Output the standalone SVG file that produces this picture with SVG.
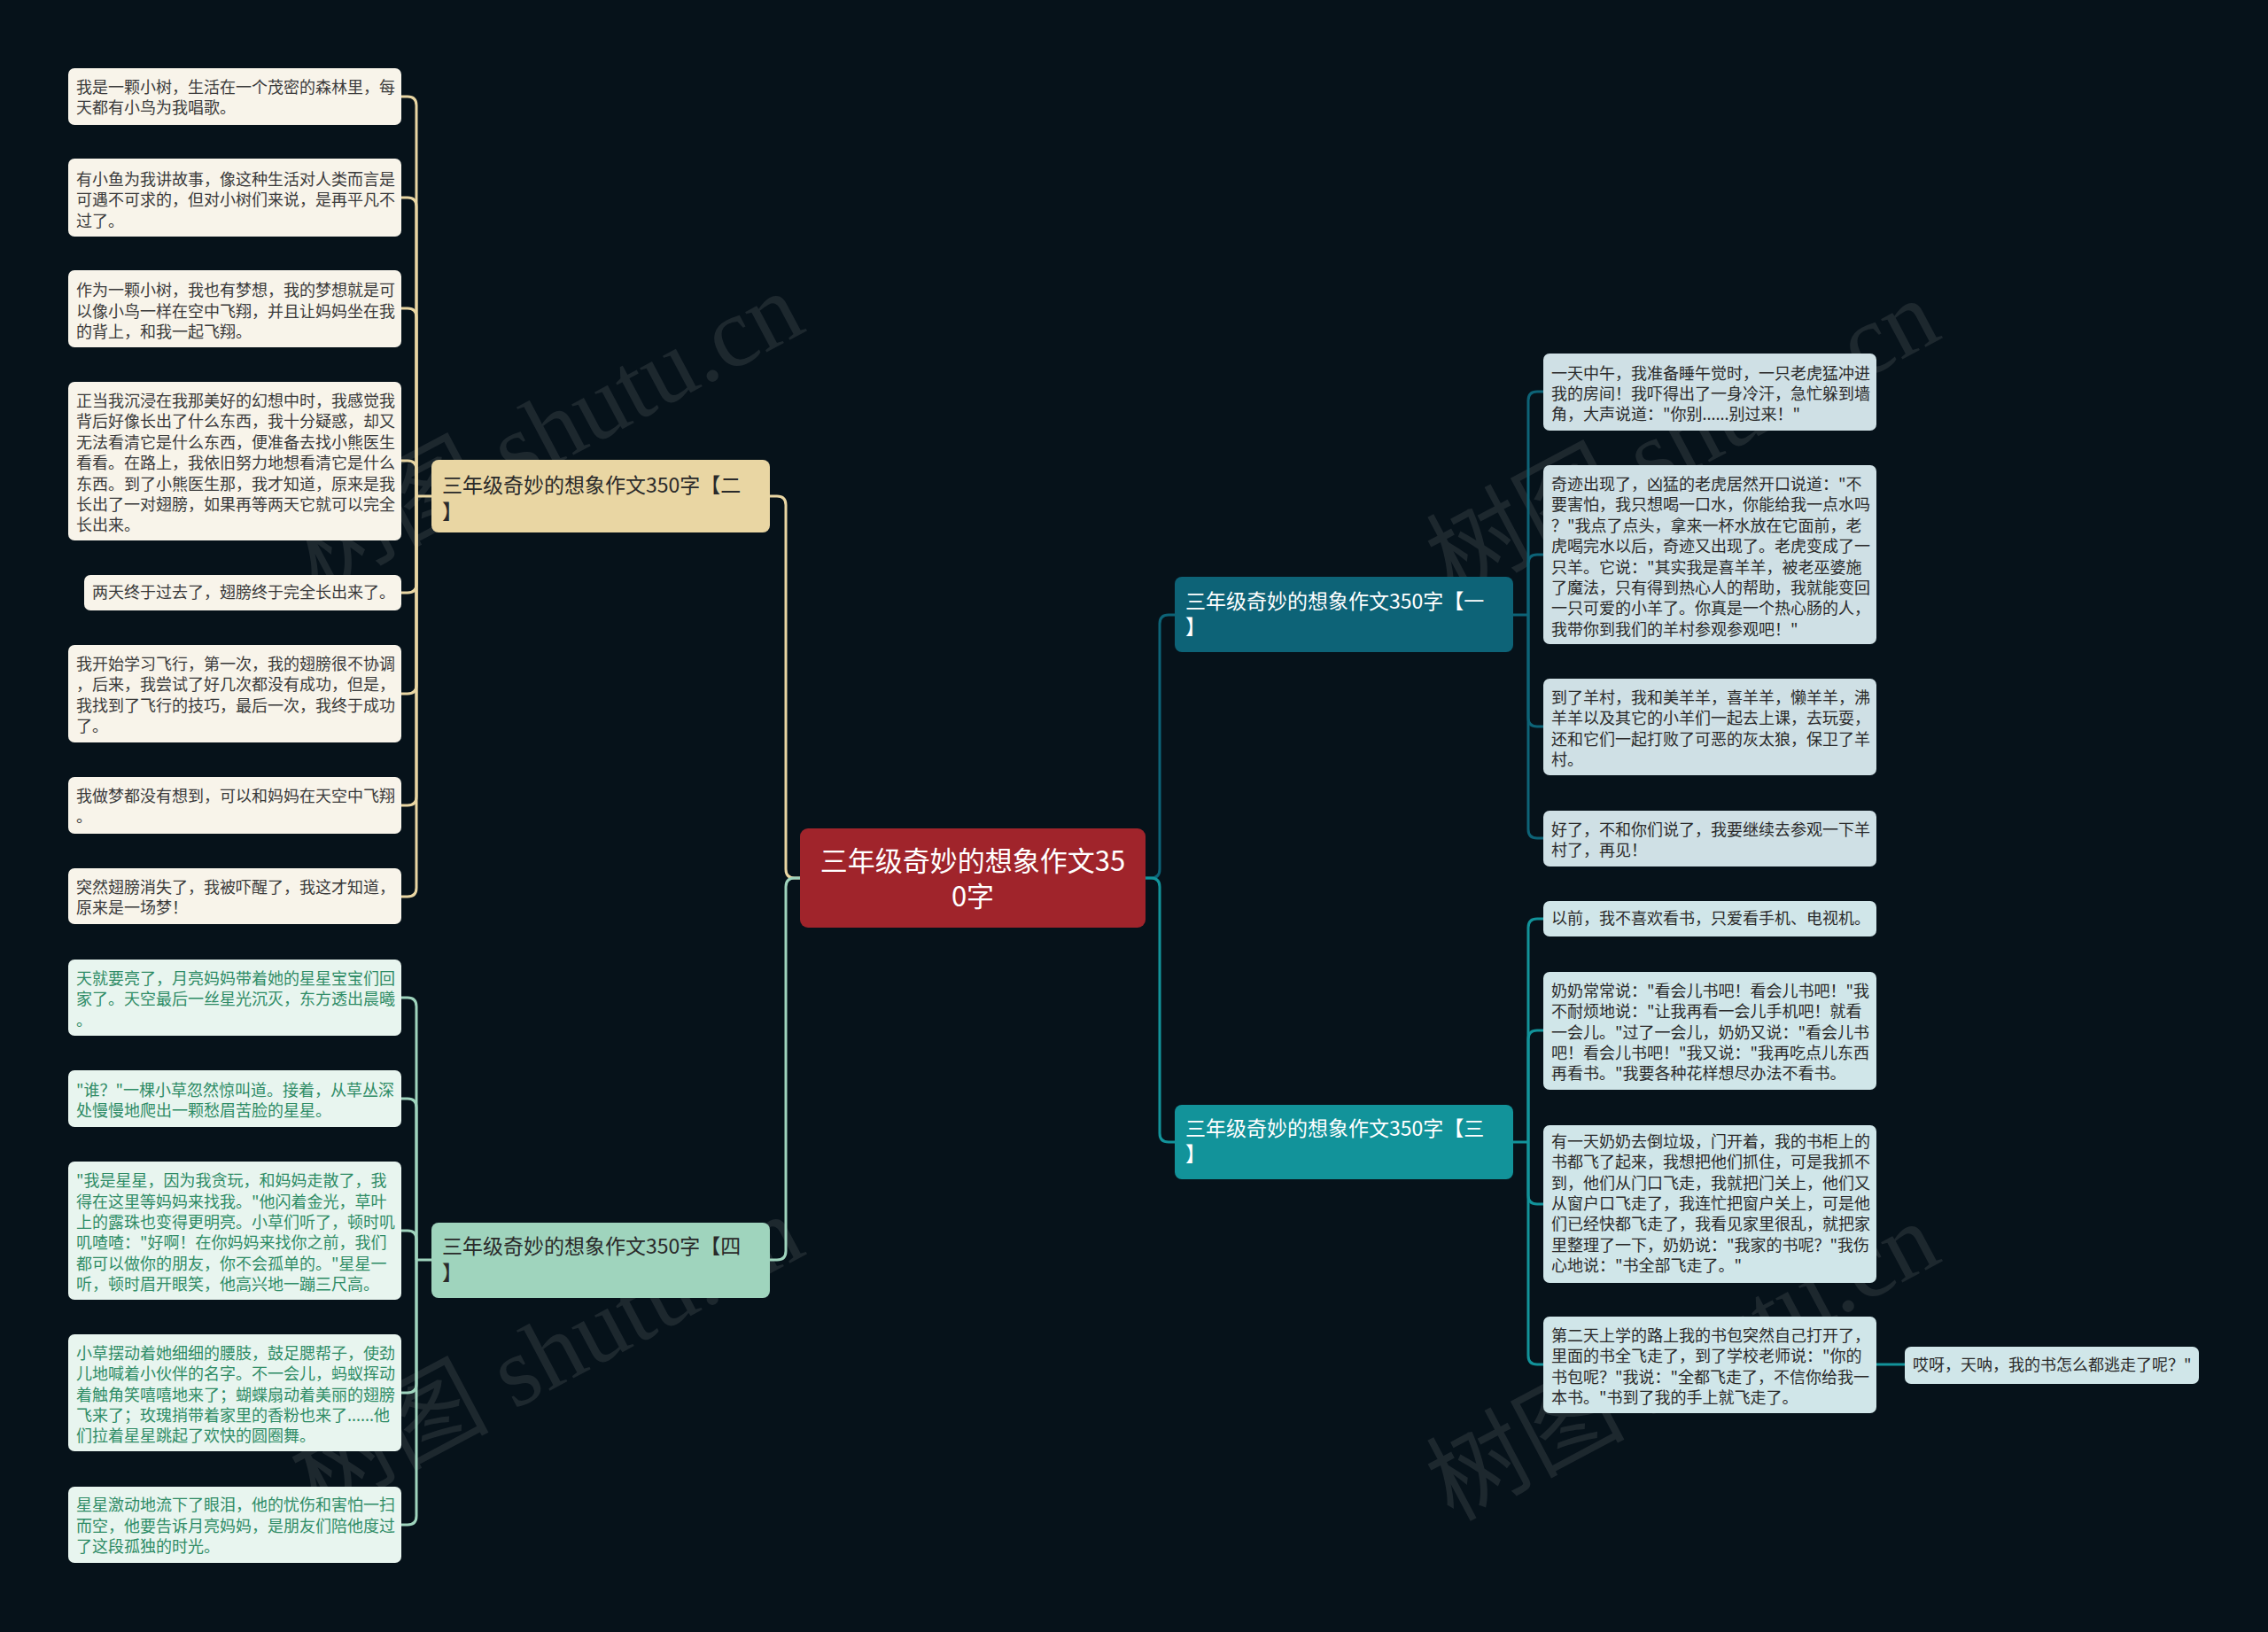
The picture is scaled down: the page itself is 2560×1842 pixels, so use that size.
<svg xmlns="http://www.w3.org/2000/svg" width="2560" height="1842" viewBox="0 0 2560 1842">
<style>
text{font-family:"Noto Sans CJK SC","Noto Sans",sans-serif}
.lf{font-size:18px}
.br{font-size:23px}
.c{fill:none;stroke-width:3}
.wm{font-family:"Liberation Serif","Noto Sans CJK SC",serif;font-size:112px;fill:#b8b8b8;opacity:0.13}
</style>
<rect width="2560" height="1842" fill="#06121a"/>
<g id="watermarks">
<text class="wm" transform="translate(635 520) rotate(-28)" text-anchor="middle">树图 shutu.cn</text>
<text class="wm" transform="translate(635 1562) rotate(-28)" text-anchor="middle">树图 shutu.cn</text>
<text class="wm" transform="translate(1917 528) rotate(-28)" text-anchor="middle">树图 shutu.cn</text>
<text class="wm" transform="translate(1917 1570) rotate(-28)" text-anchor="middle">树图 shutu.cn</text>
</g>
<g id="connectors">
<g stroke="#e9d6a3" class="c">
<path class="c" d="M903 991 H897 Q887 991 887 981 V570 Q887 560 877 560 H869"/>
<path class="c" d="M487 560 H470"/>
<path class="c" d="M470 560 V119 Q470 109 460 109 H453"/>
<path class="c" d="M470 560 V233 Q470 223 460 223 H453"/>
<path class="c" d="M470 560 V358 Q470 348 460 348 H453"/>
<path class="c" d="M470 560 V530 Q470 520 460 520 H453"/>
<path class="c" d="M470 560 V659 Q470 669 460 669 H453"/>
<path class="c" d="M470 560 V773 Q470 783 460 783 H453"/>
<path class="c" d="M470 560 V899 Q470 909 460 909 H453"/>
<path class="c" d="M470 560 V1002 Q470 1012 460 1012 H453"/>
</g>
<g stroke="#9fd4bd">
<path class="c" d="M903 991 H897 Q887 991 887 1001 V1412 Q887 1422 877 1422 H869"/>
<path class="c" d="M487 1422 H470"/>
<path class="c" d="M470 1422 V1136 Q470 1126 460 1126 H453"/>
<path class="c" d="M470 1422 V1250 Q470 1240 460 1240 H453"/>
<path class="c" d="M470 1422 V1399 Q470 1389 460 1389 H453"/>
<path class="c" d="M470 1422 V1562 Q470 1572 460 1572 H453"/>
<path class="c" d="M470 1422 V1711 Q470 1721 460 1721 H453"/>
</g>
<g stroke="#0d6377">
<path class="c" d="M1293 991 H1299 Q1309 991 1309 981 V704 Q1309 694 1319 694 H1326"/>
<path class="c" d="M1708 694 H1725"/>
<path class="c" d="M1725 694 V452 Q1725 442 1735 442 H1742"/>
<path class="c" d="M1725 694 V636 Q1725 626 1735 626 H1742"/>
<path class="c" d="M1725 694 V810 Q1725 820 1735 820 H1742"/>
<path class="c" d="M1725 694 V936 Q1725 946 1735 946 H1742"/>
</g>
<g stroke="#12939a">
<path class="c" d="M1293 991 H1299 Q1309 991 1309 1001 V1279 Q1309 1289 1319 1289 H1326"/>
<path class="c" d="M1708 1289 H1725"/>
<path class="c" d="M1725 1289 V1047 Q1725 1037 1735 1037 H1742"/>
<path class="c" d="M1725 1289 V1173 Q1725 1163 1735 1163 H1742"/>
<path class="c" d="M1725 1289 V1349 Q1725 1359 1735 1359 H1742"/>
<path class="c" d="M1725 1289 V1530 Q1725 1540 1735 1540 H1742"/>
<path class="c" d="M2118 1540 H2150"/>
</g>
</g>
<g id="center">
<rect x="903" y="935" width="390" height="112" rx="9" fill="#a0242b"/>
<text x="1098" y="983" font-size="31" fill="#ffffff" text-anchor="middle">三年级奇妙的想象作文35</text>
<text x="1098" y="1023" font-size="31" fill="#ffffff" text-anchor="middle">0字</text>
</g>
<g id="branch-2">
<rect x="487" y="519" width="382" height="82" rx="8" fill="#e9d6a3"/>
<text class="br" fill="#2a2a2a"><tspan x="499" y="556">三年级奇妙的想象作文350字【二</tspan><tspan x="499" y="586">】</tspan></text>
</g>
<g id="branch-4">
<rect x="487" y="1380" width="382" height="85" rx="8" fill="#9fd4bd"/>
<text class="br" fill="#2a2a2a"><tspan x="499" y="1415">三年级奇妙的想象作文350字【四</tspan><tspan x="499" y="1445">】</tspan></text>
</g>
<g id="branch-1">
<rect x="1326" y="651" width="382" height="85" rx="8" fill="#0d6377"/>
<text class="br" fill="#ffffff"><tspan x="1338" y="687">三年级奇妙的想象作文350字【一</tspan><tspan x="1338" y="716">】</tspan></text>
</g>
<g id="branch-3">
<rect x="1326" y="1247" width="382" height="84" rx="8" fill="#12939a"/>
<text class="br" fill="#ffffff"><tspan x="1338" y="1282">三年级奇妙的想象作文350字【三</tspan><tspan x="1338" y="1311">】</tspan></text>
</g>
<g id="leaf-2-1">
<rect x="77" y="77" width="376" height="64" rx="7" fill="#f8f4ea"/>
<text class="lf" fill="#3a3a3a"><tspan x="86" y="105">我是一颗小树，生活在一个茂密的森林里，每</tspan><tspan x="86" y="128">天都有小鸟为我唱歌。</tspan></text>
</g>
<g id="leaf-2-2">
<rect x="77" y="179" width="376" height="88" rx="7" fill="#f8f4ea"/>
<text class="lf" fill="#3a3a3a"><tspan x="86" y="209">有小鱼为我讲故事，像这种生活对人类而言是</tspan><tspan x="86" y="232">可遇不可求的，但对小树们来说，是再平凡不</tspan><tspan x="86" y="256">过了。</tspan></text>
</g>
<g id="leaf-2-3">
<rect x="77" y="305" width="376" height="87" rx="7" fill="#f8f4ea"/>
<text class="lf" fill="#3a3a3a"><tspan x="86" y="334">作为一颗小树，我也有梦想，我的梦想就是可</tspan><tspan x="86" y="358">以像小鸟一样在空中飞翔，并且让妈妈坐在我</tspan><tspan x="86" y="381">的背上，和我一起飞翔。</tspan></text>
</g>
<g id="leaf-2-4">
<rect x="77" y="431" width="376" height="179" rx="7" fill="#f8f4ea"/>
<text class="lf" fill="#3a3a3a"><tspan x="86" y="459">正当我沉浸在我那美好的幻想中时，我感觉我</tspan><tspan x="86" y="482">背后好像长出了什么东西，我十分疑惑，却又</tspan><tspan x="86" y="506">无法看清它是什么东西，便准备去找小熊医生</tspan><tspan x="86" y="529">看看。在路上，我依旧努力地想看清它是什么</tspan><tspan x="86" y="553">东西。到了小熊医生那，我才知道，原来是我</tspan><tspan x="86" y="576">长出了一对翅膀，如果再等两天它就可以完全</tspan><tspan x="86" y="599">长出来。</tspan></text>
</g>
<g id="leaf-2-5">
<rect x="95" y="649" width="358" height="40" rx="7" fill="#f8f4ea"/>
<text class="lf" fill="#3a3a3a" x="104" y="675">两天终于过去了，翅膀终于完全长出来了。</text>
</g>
<g id="leaf-2-6">
<rect x="77" y="728" width="376" height="110" rx="7" fill="#f8f4ea"/>
<text class="lf" fill="#3a3a3a"><tspan x="86" y="756">我开始学习飞行，第一次，我的翅膀很不协调</tspan><tspan x="86" y="779">，后来，我尝试了好几次都没有成功，但是，</tspan><tspan x="86" y="803">我找到了飞行的技巧，最后一次，我终于成功</tspan><tspan x="86" y="826">了。</tspan></text>
</g>
<g id="leaf-2-7">
<rect x="77" y="877" width="376" height="64" rx="7" fill="#f8f4ea"/>
<text class="lf" fill="#3a3a3a"><tspan x="86" y="905">我做梦都没有想到，可以和妈妈在天空中飞翔</tspan><tspan x="86" y="928">。</tspan></text>
</g>
<g id="leaf-2-8">
<rect x="77" y="980" width="376" height="63" rx="7" fill="#f8f4ea"/>
<text class="lf" fill="#3a3a3a"><tspan x="86" y="1008">突然翅膀消失了，我被吓醒了，我这才知道，</tspan><tspan x="86" y="1031">原来是一场梦！</tspan></text>
</g>
<g id="leaf-4-1">
<rect x="77" y="1083" width="376" height="86" rx="7" fill="#e8f5ef"/>
<text class="lf" fill="#2f8c66"><tspan x="86" y="1111">天就要亮了，月亮妈妈带着她的星星宝宝们回</tspan><tspan x="86" y="1134">家了。天空最后一丝星光沉灭，东方透出晨曦</tspan><tspan x="86" y="1158">。</tspan></text>
</g>
<g id="leaf-4-2">
<rect x="77" y="1208" width="376" height="64" rx="7" fill="#e8f5ef"/>
<text class="lf" fill="#2f8c66"><tspan x="86" y="1237">"谁？"一棵小草忽然惊叫道。接着，从草丛深</tspan><tspan x="86" y="1260">处慢慢地爬出一颗愁眉苦脸的星星。</tspan></text>
</g>
<g id="leaf-4-3">
<rect x="77" y="1311" width="376" height="156" rx="7" fill="#e8f5ef"/>
<text class="lf" fill="#2f8c66"><tspan x="86" y="1339">"我是星星，因为我贪玩，和妈妈走散了，我</tspan><tspan x="86" y="1363">得在这里等妈妈来找我。"他闪着金光，草叶</tspan><tspan x="86" y="1386">上的露珠也变得更明亮。小草们听了，顿时叽</tspan><tspan x="86" y="1409">叽喳喳："好啊！在你妈妈来找你之前，我们</tspan><tspan x="86" y="1433">都可以做你的朋友，你不会孤单的。"星星一</tspan><tspan x="86" y="1456">听，顿时眉开眼笑，他高兴地一蹦三尺高。</tspan></text>
</g>
<g id="leaf-4-4">
<rect x="77" y="1506" width="376" height="132" rx="7" fill="#e8f5ef"/>
<text class="lf" fill="#2f8c66"><tspan x="86" y="1534">小草摆动着她细细的腰肢，鼓足腮帮子，使劲</tspan><tspan x="86" y="1557">儿地喊着小伙伴的名字。不一会儿，蚂蚁挥动</tspan><tspan x="86" y="1581">着触角笑嘻嘻地来了；蝴蝶扇动着美丽的翅膀</tspan><tspan x="86" y="1604">飞来了；玫瑰捎带着家里的香粉也来了......他</tspan><tspan x="86" y="1627">们拉着星星跳起了欢快的圆圈舞。</tspan></text>
</g>
<g id="leaf-4-5">
<rect x="77" y="1678" width="376" height="86" rx="7" fill="#e8f5ef"/>
<text class="lf" fill="#2f8c66"><tspan x="86" y="1705">星星激动地流下了眼泪，他的忧伤和害怕一扫</tspan><tspan x="86" y="1729">而空，他要告诉月亮妈妈，是朋友们陪他度过</tspan><tspan x="86" y="1752">了这段孤独的时光。</tspan></text>
</g>
<g id="leaf-1-1">
<rect x="1742" y="399" width="376" height="87" rx="7" fill="#cfe0e5"/>
<text class="lf" fill="#2a2a2a"><tspan x="1751" y="428">一天中午，我准备睡午觉时，一只老虎猛冲进</tspan><tspan x="1751" y="451">我的房间！我吓得出了一身冷汗，急忙躲到墙</tspan><tspan x="1751" y="474">角，大声说道："你别......别过来！"</tspan></text>
</g>
<g id="leaf-1-2">
<rect x="1742" y="525" width="376" height="202" rx="7" fill="#cfe0e5"/>
<text class="lf" fill="#2a2a2a"><tspan x="1751" y="553">奇迹出现了，凶猛的老虎居然开口说道："不</tspan><tspan x="1751" y="576">要害怕，我只想喝一口水，你能给我一点水吗</tspan><tspan x="1751" y="600">？"我点了点头，拿来一杯水放在它面前，老</tspan><tspan x="1751" y="623">虎喝完水以后，奇迹又出现了。老虎变成了一</tspan><tspan x="1751" y="647">只羊。它说："其实我是喜羊羊，被老巫婆施</tspan><tspan x="1751" y="670">了魔法，只有得到热心人的帮助，我就能变回</tspan><tspan x="1751" y="693">一只可爱的小羊了。你真是一个热心肠的人，</tspan><tspan x="1751" y="717">我带你到我们的羊村参观参观吧！"</tspan></text>
</g>
<g id="leaf-1-3">
<rect x="1742" y="766" width="376" height="109" rx="7" fill="#cfe0e5"/>
<text class="lf" fill="#2a2a2a"><tspan x="1751" y="794">到了羊村，我和美羊羊，喜羊羊，懒羊羊，沸</tspan><tspan x="1751" y="817">羊羊以及其它的小羊们一起去上课，去玩耍，</tspan><tspan x="1751" y="841">还和它们一起打败了可恶的灰太狼，保卫了羊</tspan><tspan x="1751" y="864">村。</tspan></text>
</g>
<g id="leaf-1-4">
<rect x="1742" y="915" width="376" height="63" rx="7" fill="#cfe0e5"/>
<text class="lf" fill="#2a2a2a"><tspan x="1751" y="943">好了，不和你们说了，我要继续去参观一下羊</tspan><tspan x="1751" y="966">村了，再见！</tspan></text>
</g>
<g id="leaf-3-1">
<rect x="1742" y="1017" width="376" height="40" rx="7" fill="#d0e6e9"/>
<text class="lf" fill="#2a2a2a" x="1751" y="1043">以前，我不喜欢看书，只爱看手机、电视机。</text>
</g>
<g id="leaf-3-2">
<rect x="1742" y="1097" width="376" height="133" rx="7" fill="#d0e6e9"/>
<text class="lf" fill="#2a2a2a"><tspan x="1751" y="1125">奶奶常常说："看会儿书吧！看会儿书吧！"我</tspan><tspan x="1751" y="1148">不耐烦地说："让我再看一会儿手机吧！就看</tspan><tspan x="1751" y="1172">一会儿。"过了一会儿，奶奶又说："看会儿书</tspan><tspan x="1751" y="1195">吧！看会儿书吧！"我又说："我再吃点儿东西</tspan><tspan x="1751" y="1218">再看书。"我要各种花样想尽办法不看书。</tspan></text>
</g>
<g id="leaf-3-3">
<rect x="1742" y="1270" width="376" height="178" rx="7" fill="#d0e6e9"/>
<text class="lf" fill="#2a2a2a"><tspan x="1751" y="1295">有一天奶奶去倒垃圾，门开着，我的书柜上的</tspan><tspan x="1751" y="1318">书都飞了起来，我想把他们抓住，可是我抓不</tspan><tspan x="1751" y="1342">到，他们从门口飞走，我就把门关上，他们又</tspan><tspan x="1751" y="1365">从窗户口飞走了，我连忙把窗户关上，可是他</tspan><tspan x="1751" y="1388">们已经快都飞走了，我看见家里很乱，就把家</tspan><tspan x="1751" y="1412">里整理了一下，奶奶说："我家的书呢？"我伤</tspan><tspan x="1751" y="1435">心地说："书全部飞走了。"</tspan></text>
</g>
<g id="leaf-3-4">
<rect x="1742" y="1486" width="376" height="109" rx="7" fill="#d0e6e9"/>
<text class="lf" fill="#2a2a2a"><tspan x="1751" y="1514">第二天上学的路上我的书包突然自己打开了，</tspan><tspan x="1751" y="1537">里面的书全飞走了，到了学校老师说："你的</tspan><tspan x="1751" y="1561">书包呢？"我说："全都飞走了，不信你给我一</tspan><tspan x="1751" y="1584">本书。"书到了我的手上就飞走了。</tspan></text>
</g>
<g id="leaf-3-4-1">
<rect x="2150" y="1520" width="332" height="42" rx="7" fill="#d0e6e9"/>
<text class="lf" fill="#2a2a2a" x="2159" y="1547">哎呀，天呐，我的书怎么都逃走了呢？"</text>
</g>
</svg>
